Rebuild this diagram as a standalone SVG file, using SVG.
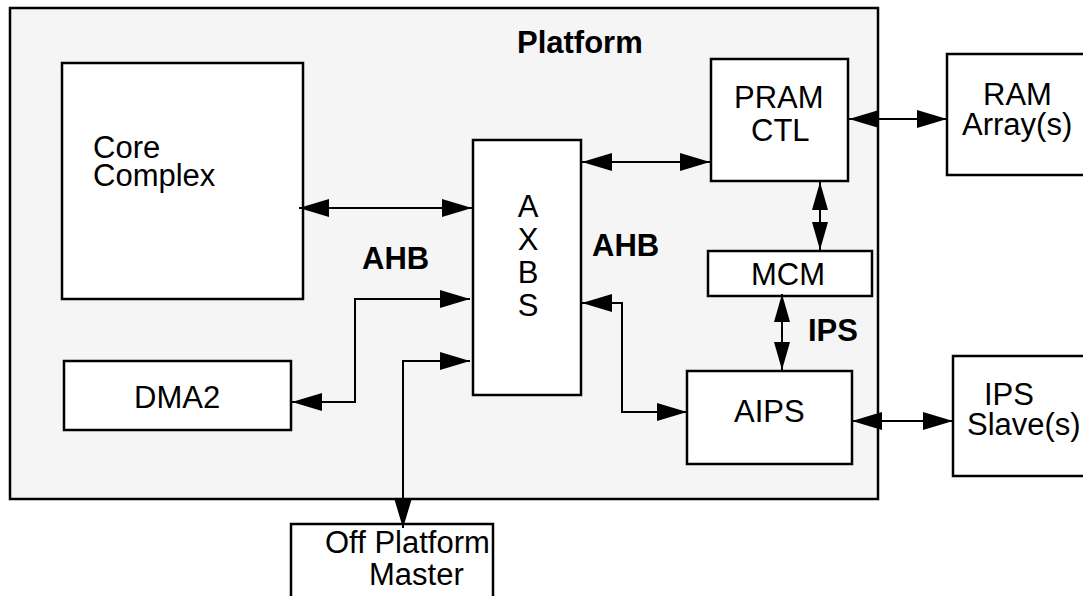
<svg xmlns="http://www.w3.org/2000/svg" width="1083" height="596" viewBox="0 0 1083 596">
<style>
.box{fill:#ffffff;stroke:#000;stroke-width:2.5}
.plat{fill:#f5f5f5;stroke:#000;stroke-width:2.5}
.ln{fill:none;stroke:#000;stroke-width:2}
.t{font-family:"Liberation Sans",Arial,sans-serif;font-size:31px;fill:#000}
.b{font-family:"Liberation Sans",Arial,sans-serif;font-size:31px;font-weight:bold;fill:#000}
</style>
<defs>
<marker id="ah" markerUnits="userSpaceOnUse" markerWidth="30" markerHeight="18" refX="30" refY="9" orient="auto-start-reverse" viewBox="0 0 30 18">
<path d="M0,0 L30,9 L0,18 z" fill="#000"/>
</marker>
<marker id="ahs" markerUnits="userSpaceOnUse" markerWidth="28" markerHeight="16" refX="28" refY="8" orient="auto-start-reverse" viewBox="0 0 28 16">
<path d="M0,0 L28,8 L0,16 z" fill="#000"/>
</marker>
</defs>
<g id="platform">
<rect class="plat" x="10" y="8" width="868" height="491"/>
<text class="b" x="517" y="53">Platform</text>
</g>
<g id="core">
<rect class="box" x="62" y="63" width="241" height="236"/>
<text class="t" x="93" y="158">Core</text>
<text class="t" x="93" y="186">Complex</text>
</g>
<g id="axbs">
<rect class="box" x="473" y="140" width="108" height="255"/>
<text class="t" x="528" y="217" text-anchor="middle">A</text>
<text class="t" x="528" y="250" text-anchor="middle">X</text>
<text class="t" x="528" y="283" text-anchor="middle">B</text>
<text class="t" x="528" y="316" text-anchor="middle">S</text>
</g>
<g id="dma2">
<rect class="box" x="64" y="361" width="227" height="69"/>
<text class="t" x="134" y="408">DMA2</text>
</g>
<g id="pramctl">
<rect class="box" x="711" y="59" width="137" height="122"/>
<text class="t" x="734" y="108">PRAM</text>
<text class="t" x="751" y="141">CTL</text>
</g>
<g id="mcm">
<rect class="box" x="708" y="251" width="164" height="45"/>
<text class="t" x="751" y="285">MCM</text>
</g>
<g id="aips">
<rect class="box" x="687" y="371" width="165" height="93"/>
<text class="t" x="734" y="422">AIPS</text>
</g>
<g id="ramarray">
<rect class="box" x="947" y="54" width="140" height="121"/>
<text class="t" x="983" y="105">RAM</text>
<text class="t" x="962" y="135">Array(s)</text>
</g>
<g id="ipsslave">
<rect class="box" x="953" y="356" width="140" height="120"/>
<text class="t" x="984" y="405">IPS</text>
<text class="t" x="967" y="435">Slave(s)</text>
</g>
<g id="offplatform">
<rect class="box" x="291" y="524" width="202" height="90"/>
<text class="t" x="325" y="553">Off Platform</text>
<text class="t" x="369" y="585">Master</text>
</g>
<g id="labels">
<text class="b" x="362" y="269">AHB</text>
<text class="b" x="592" y="256">AHB</text>
<text class="b" x="808" y="341">IPS</text>
</g>
<g id="connectors">
<line class="ln" x1="299" y1="208" x2="472" y2="208" marker-start="url(#ah)" marker-end="url(#ah)"/>
<polyline class="ln" points="292,402 355,402 355,299 470,299" marker-start="url(#ah)" marker-end="url(#ah)"/>
<polyline class="ln" points="403,528 403,361 470,361" marker-start="url(#ah)" marker-end="url(#ah)"/>
<line class="ln" x1="582" y1="162" x2="710" y2="162" marker-start="url(#ah)" marker-end="url(#ah)"/>
<polyline class="ln" points="582,303 622,303 622,412 687,412" marker-start="url(#ah)" marker-end="url(#ah)"/>
<line class="ln" x1="849" y1="119" x2="947" y2="119" marker-start="url(#ah)" marker-end="url(#ah)"/>
<line class="ln" x1="820" y1="182" x2="820" y2="250" stroke-width="1.5" marker-start="url(#ahs)" marker-end="url(#ahs)"/>
<line class="ln" x1="782" y1="294" x2="782" y2="370" marker-start="url(#ahs)" marker-end="url(#ahs)"/>
<line class="ln" x1="852" y1="421" x2="953" y2="421" marker-start="url(#ah)" marker-end="url(#ah)"/>
</g>
</svg>
